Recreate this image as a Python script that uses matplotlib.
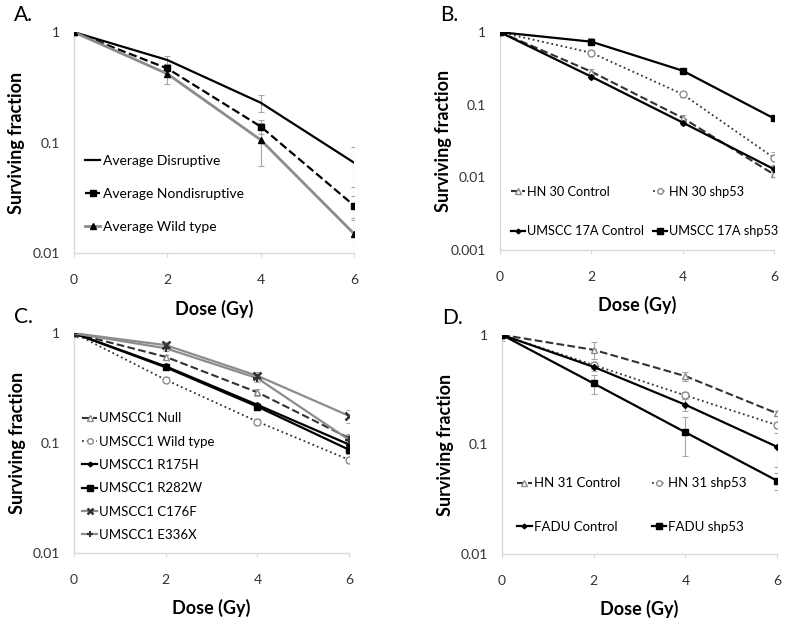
import matplotlib
matplotlib.use("Agg")
import matplotlib.pyplot as plt
import numpy as np

plt.rcParams['font.family'] = ['Lato', 'DejaVu Sans']

dose = [0, 2, 4, 6]

# A. averages
a_labels = ["Average Disruptive", "Average Nondisruptive", "Average Wild type"]
a_vals = [[1, 0.56, 0.23, 0.066],
          [1, 0.47, 0.14, 0.027],
          [1, 0.42, 0.106, 0.015]]
a_err = [[0, 0.05, 0.04, 0.026],
         [0, 0.05, 0.02, 0.006],
         [0, 0.08, 0.045, 0.005]]

# B. HN30 / UMSCC 17A
b_labels = ["HN 30 Control", "HN 30 shp53", "UMSCC 17A Control", "UMSCC 17A shp53"]
b_vals = [[1, 0.286, 0.066, 0.011],
          [1, 0.52, 0.14, 0.0186],
          [1, 0.244, 0.057, 0.013],
          [1, 0.74, 0.295, 0.065]]
b_err = [[0, 0.03, 0.006, 0.001],
         [0, 0.04, 0.01, 0.004],
         [0, 0.02, 0.004, 0.002],
         [0.05, 0.08, 0.02, 0.005]]

# C. UMSCC1 variants
c_labels = ["UMSCC1 Null", "UMSCC1 Wild type", "UMSCC1 R175H",
            "UMSCC1 R282W", "UMSCC1 C176F", "UMSCC1 E336X"]
c_vals = [[1, 0.61, 0.29, 0.111],
          [1, 0.377, 0.157, 0.0705],
          [1, 0.50, 0.223, 0.097],
          [1, 0.49, 0.215, 0.087],
          [1, 0.78, 0.41, 0.177],
          [1, 0.73, 0.39, 0.107]]
c_err = [[0, 0.03, 0.02, 0.01],
         [0, 0.02, 0.01, 0.005],
         [0, 0.02, 0.01, 0.008],
         [0, 0.02, 0.01, 0.008],
         [0, 0.05, 0.03, 0.025],
         [0, 0.04, 0.03, 0.012]]

# D. HN31 / FADU
d_labels = ["HN 31 Control", "HN 31 shp53", "FADU Control", "FADU shp53"]
d_vals = [[1, 0.73, 0.42, 0.192],
          [1, 0.53, 0.28, 0.15],
          [1, 0.51, 0.23, 0.095],
          [1, 0.36, 0.129, 0.0466]]
d_err = [[0.12, 0.13, 0.04, 0.01],
         [0, 0.04, 0.02, 0.01],
         [0, 0.04, 0.03, 0.033],
         [0, 0.07, 0.05, 0.008]]

GRAY = '#8c8c8c'
AXC = '#d9d9d9'
ERRC = '#a6a6a6'

sty_a = [dict(color='black', ls='-', marker=None, lw=1.6),
         dict(color='black', ls='--', marker='s', ms=5, mfc='black', lw=1.6),
         dict(color=GRAY, ls='-', marker='^', ms=5, mfc='black', mec='black', lw=2.0)]
sty_b = [dict(color='#333333', ls='--', marker='^', ms=5, mfc='white', mec=GRAY, lw=1.5),
         dict(color='#333333', ls=':', marker='o', ms=5, mfc='white', mec=GRAY, lw=1.3),
         dict(color='black', ls='-', marker='D', ms=3, mfc='black', lw=1.6),
         dict(color='black', ls='-', marker='s', ms=5, mfc='black', lw=1.6)]
sty_c = [dict(color='#333333', ls='--', marker='^', ms=5, mfc='white', mec=GRAY, lw=1.5),
         dict(color='#333333', ls=':', marker='o', ms=5, mfc='white', mec=GRAY, lw=1.3),
         dict(color='black', ls='-', marker='D', ms=3, mfc='black', lw=1.6),
         dict(color='black', ls='-', marker='s', ms=5, mfc='black', lw=1.6),
         dict(color=GRAY, ls='-', marker='x', ms=6, mew=1.8, mec='#333333', lw=1.6),
         dict(color=GRAY, ls='-', marker='+', ms=6, mew=1.5, mec='#333333', lw=1.6)]
sty_d = sty_b


def panel(rect, vals, errs, labels, styles, ylim, letter, lpos, ncol, lfs, lspace, cspace):
    ax = fig.add_axes(rect)
    handles = []
    for v, e, lab, st in zip(vals, errs, labels, styles):
        ax.errorbar(dose, v, yerr=e, fmt='none', ecolor=ERRC, elinewidth=0.8,
                    capsize=2, capthick=0.8, zorder=1)
        h, = ax.plot(dose, v, label=lab, zorder=3, **st)
        handles.append(h)
    ax.set_yscale('log')
    ax.set_ylim(*ylim)
    ax.set_xlim(0, 6)
    ax.set_xticks([0, 2, 4, 6])
    ticks = [t for t in [0.001, 0.01, 0.1, 1] if ylim[0] <= t <= ylim[1]]
    ax.set_yticks(ticks)
    ax.set_yticklabels([('%g' % t) for t in ticks])
    ax.minorticks_off()
    for s in ['top', 'right']:
        ax.spines[s].set_visible(False)
    for s in ['left', 'bottom']:
        ax.spines[s].set_color(AXC)
        ax.spines[s].set_linewidth(1.0)
    ax.tick_params(axis='x', length=3, color=AXC, pad=12, labelsize=10, labelcolor='#333333')
    ax.tick_params(axis='y', length=0, pad=10, labelsize=10, labelcolor='#333333')
    ax.set_ylabel('Surviving fraction', fontsize=13, fontweight='bold')
    ax.set_xlabel('Dose (Gy)', fontsize=13, fontweight='bold')
    ax.yaxis.set_label_coords(-0.175, 0.5)
    ax.xaxis.set_label_coords(0.5, -0.21)
    if ncol == 2:
        # row-wise order like the original
        handles = [handles[0], handles[2], handles[1], handles[3]]
    ax.legend(handles=handles, loc='upper left', bbox_to_anchor=lpos, frameon=False,
              ncol=ncol, fontsize=lfs, handlelength=1.1, handletextpad=0.15,
              borderpad=0, borderaxespad=0, labelspacing=lspace,
              columnspacing=cspace, markerscale=0.8)
    fig.text(rect[0] - 0.075, rect[1] + rect[3] + 0.027, letter, fontsize=15,
             ha='left', va='center')
    return ax


fig = plt.figure(figsize=(8, 6.19), dpi=100)

panel([0.0925, 0.591, 0.35, 0.357], a_vals, a_err, a_labels, sty_a, (0.01, 1),
      'A.', (0.04, 0.445), 1, 10, 1.52, 1.0)
panel([0.625, 0.596, 0.3425, 0.352], b_vals, b_err, b_labels, sty_b, (0.001, 1),
      'B.', (0.04, 0.295), 2, 9.2, 2.13, 0.7)
panel([0.0925, 0.1066, 0.344, 0.355], c_vals, c_err, c_labels, sty_c, (0.01, 1),
      'C.', (0.03, 0.64), 1, 9.5, 0.86, 1.0)
panel([0.6275, 0.105, 0.344, 0.354], d_vals, d_err, d_labels, sty_d, (0.01, 1),
      'D.', (0.055, 0.35), 2, 9.5, 2.41, 2.4)

fig.savefig('out.png', dpi=100)
